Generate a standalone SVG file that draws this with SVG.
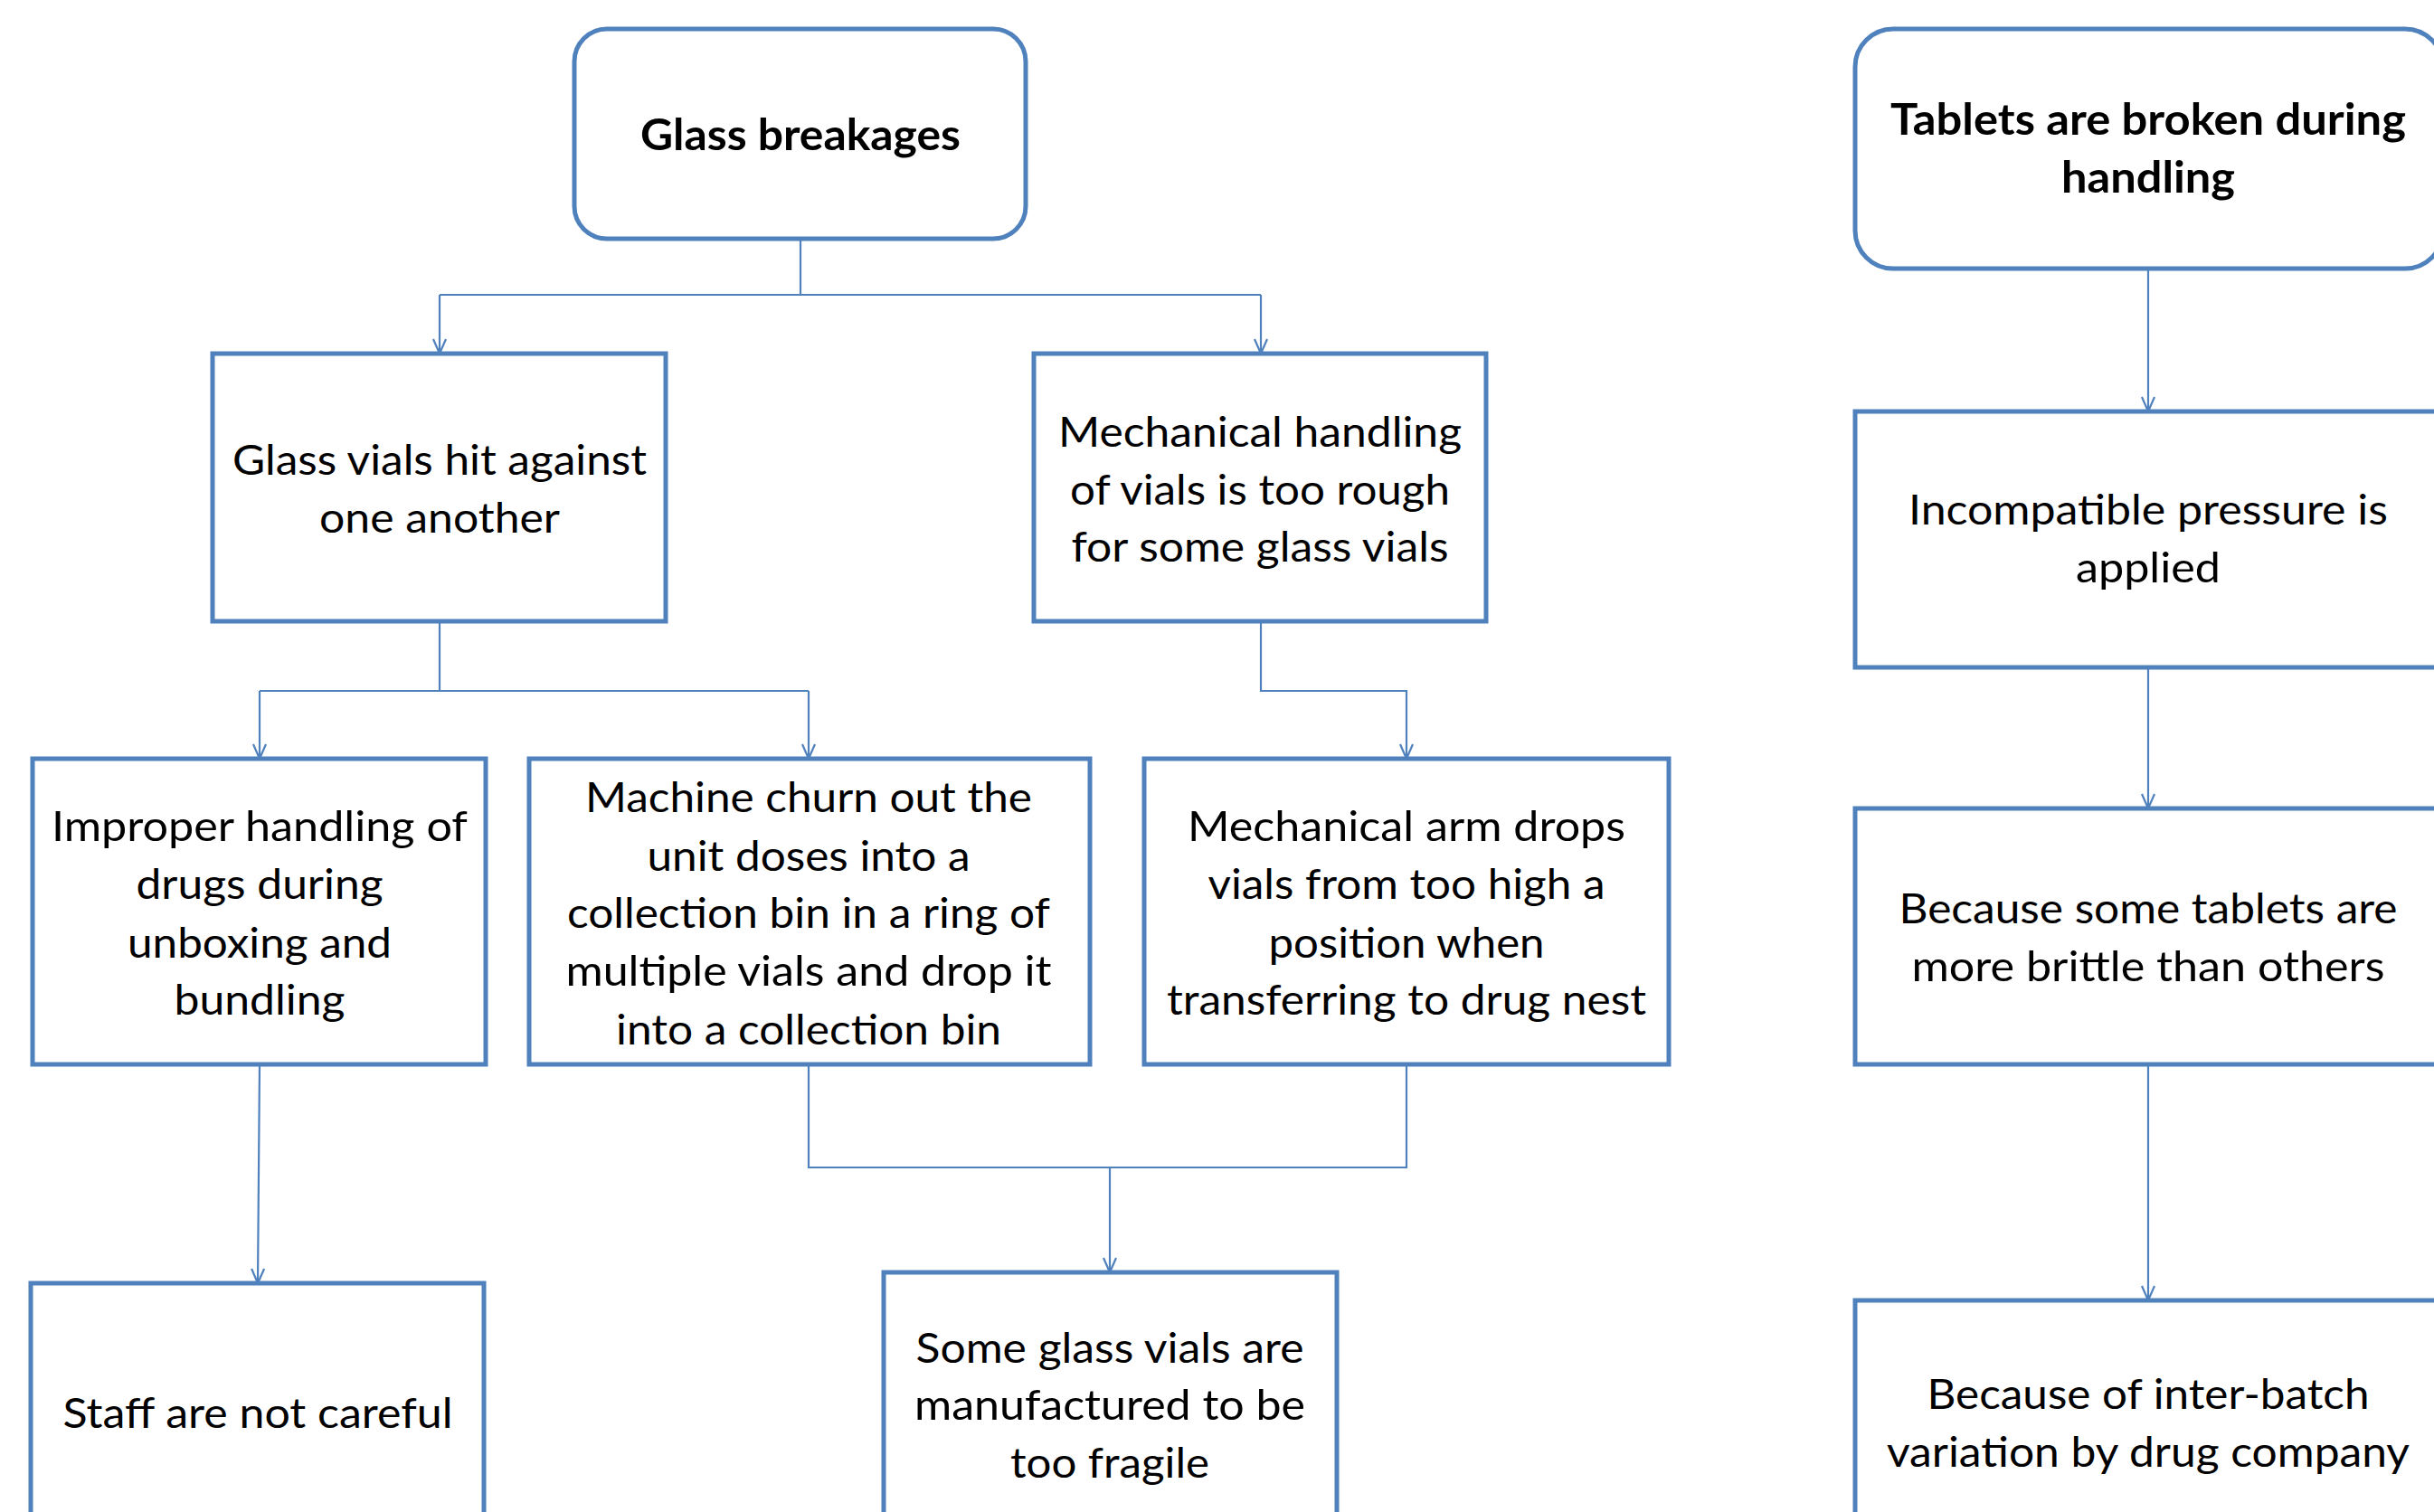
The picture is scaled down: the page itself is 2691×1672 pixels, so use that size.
<svg xmlns="http://www.w3.org/2000/svg" width="2691" height="1672" viewBox="0 0 2691 1672">
<style>
.box{fill:#fff;stroke:#4F81BD;stroke-width:5}
.con{fill:none;stroke:#4F81BD;stroke-width:2.2}
.t{font-family:Lato,"Open Sans","Liberation Sans",sans-serif;font-size:46px;fill:#000;text-anchor:middle}
.b{font-weight:bold;font-size:48px}
</style>
<defs>
<marker id="ah" markerUnits="userSpaceOnUse" markerWidth="24" markerHeight="24" refX="17" refY="8" orient="auto" overflow="visible">
<path d="M1,1 L17,8 L1,15" fill="none" stroke="#4F81BD" stroke-width="2.2"/>
</marker>
</defs>
<rect width="2691" height="1672" fill="#fff"/>
<g id="connectors">
<path class="con" d="M885,264 V326"/>
<path class="con" d="M486,326 H1394"/>
<path class="con" d="M486,326 V391" marker-end="url(#ah)"/>
<path class="con" d="M1394,326 V391" marker-end="url(#ah)"/>
<path class="con" d="M486,687 V764"/>
<path class="con" d="M287,764 H894"/>
<path class="con" d="M287,764 V839" marker-end="url(#ah)"/>
<path class="con" d="M894,764 V839" marker-end="url(#ah)"/>
<path class="con" d="M1394,687 V764 H1555 V839" marker-end="url(#ah)"/>
<path class="con" d="M287,1177 L285,1419" marker-end="url(#ah)"/>
<path class="con" d="M894,1177 V1291 H1555 V1177"/>
<path class="con" d="M1227,1291 V1407" marker-end="url(#ah)"/>
<path class="con" d="M2375,297 V455" marker-end="url(#ah)"/>
<path class="con" d="M2375,738 V894" marker-end="url(#ah)"/>
<path class="con" d="M2375,1177 V1438" marker-end="url(#ah)"/>
</g>
<g id="n-glass-breakages">
<rect class="box" x="635" y="32" width="499" height="232" rx="36"/>
<text class="t b" x="885" y="166" textLength="354" lengthAdjust="spacingAndGlyphs">Glass breakages</text>
</g>
<g id="n-hit">
<rect class="box" x="235" y="391" width="501" height="296"/>
<text class="t" x="486" y="525" textLength="458" lengthAdjust="spacingAndGlyphs">Glass vials hit against</text>
<text class="t" x="486" y="589" textLength="266" lengthAdjust="spacingAndGlyphs">one another</text>
</g>
<g id="n-mech-handling">
<rect class="box" x="1143" y="391" width="500" height="296"/>
<text class="t" x="1393" y="494" textLength="446" lengthAdjust="spacingAndGlyphs">Mechanical handling</text>
<text class="t" x="1393" y="558" textLength="420" lengthAdjust="spacingAndGlyphs">of vials is too rough</text>
<text class="t" x="1393" y="621" textLength="417" lengthAdjust="spacingAndGlyphs">for some glass vials</text>
</g>
<g id="n-improper">
<rect class="box" x="36" y="839" width="501" height="338"/>
<text class="t" x="287" y="930" textLength="460" lengthAdjust="spacingAndGlyphs">Improper handling of</text>
<text class="t" x="287" y="994" textLength="273" lengthAdjust="spacingAndGlyphs">drugs during</text>
<text class="t" x="287" y="1059" textLength="292" lengthAdjust="spacingAndGlyphs">unboxing and</text>
<text class="t" x="287" y="1122" textLength="189" lengthAdjust="spacingAndGlyphs">bundling</text>
</g>
<g id="n-machine">
<rect class="box" x="585" y="839" width="620" height="338"/>
<text class="t" x="894" y="898" textLength="494" lengthAdjust="spacingAndGlyphs">Machine churn out the</text>
<text class="t" x="894" y="963" textLength="357" lengthAdjust="spacingAndGlyphs">unit doses into a</text>
<text class="t" x="894" y="1026" textLength="534" lengthAdjust="spacingAndGlyphs">collection bin in a ring of</text>
<text class="t" x="894" y="1090" textLength="537" lengthAdjust="spacingAndGlyphs">multiple vials and drop it</text>
<text class="t" x="894" y="1155" textLength="426" lengthAdjust="spacingAndGlyphs">into a collection bin</text>
</g>
<g id="n-arm">
<rect class="box" x="1265" y="839" width="580" height="338"/>
<text class="t" x="1555" y="930" textLength="484" lengthAdjust="spacingAndGlyphs">Mechanical arm drops</text>
<text class="t" x="1555" y="994" textLength="439" lengthAdjust="spacingAndGlyphs">vials from too high a</text>
<text class="t" x="1555" y="1059" textLength="305" lengthAdjust="spacingAndGlyphs">position when</text>
<text class="t" x="1555" y="1122" textLength="530" lengthAdjust="spacingAndGlyphs">transferring to drug nest</text>
</g>
<g id="n-staff">
<rect class="box" x="34" y="1419" width="501" height="300"/>
<text class="t" x="285" y="1579" textLength="431" lengthAdjust="spacingAndGlyphs">Staff are not careful</text>
</g>
<g id="n-fragile">
<rect class="box" x="977" y="1407" width="501" height="300"/>
<text class="t" x="1227" y="1507" textLength="429" lengthAdjust="spacingAndGlyphs">Some glass vials are</text>
<text class="t" x="1227" y="1570" textLength="432" lengthAdjust="spacingAndGlyphs">manufactured to be</text>
<text class="t" x="1227" y="1634" textLength="220" lengthAdjust="spacingAndGlyphs">too fragile</text>
</g>
<g id="n-tablets">
<rect class="box" x="2051" y="32" width="650" height="265" rx="42"/>
<text class="t b" x="2375" y="149" textLength="570" lengthAdjust="spacingAndGlyphs">Tablets are broken during</text>
<text class="t b" x="2375" y="213" textLength="192" lengthAdjust="spacingAndGlyphs">handling</text>
</g>
<g id="n-pressure">
<rect class="box" x="2051" y="455" width="660" height="283"/>
<text class="t" x="2375" y="580" textLength="530" lengthAdjust="spacingAndGlyphs">Incompatible pressure is</text>
<text class="t" x="2375" y="644" textLength="160" lengthAdjust="spacingAndGlyphs">applied</text>
</g>
<g id="n-brittle">
<rect class="box" x="2051" y="894" width="660" height="283"/>
<text class="t" x="2375" y="1021" textLength="551" lengthAdjust="spacingAndGlyphs">Because some tablets are</text>
<text class="t" x="2375" y="1085" textLength="523" lengthAdjust="spacingAndGlyphs">more brittle than others</text>
</g>
<g id="n-interbatch">
<rect class="box" x="2051" y="1438" width="660" height="300"/>
<text class="t" x="2375" y="1558" textLength="489" lengthAdjust="spacingAndGlyphs">Because of inter-batch</text>
<text class="t" x="2375" y="1622" textLength="578" lengthAdjust="spacingAndGlyphs">variation by drug company</text>
</g>
</svg>
